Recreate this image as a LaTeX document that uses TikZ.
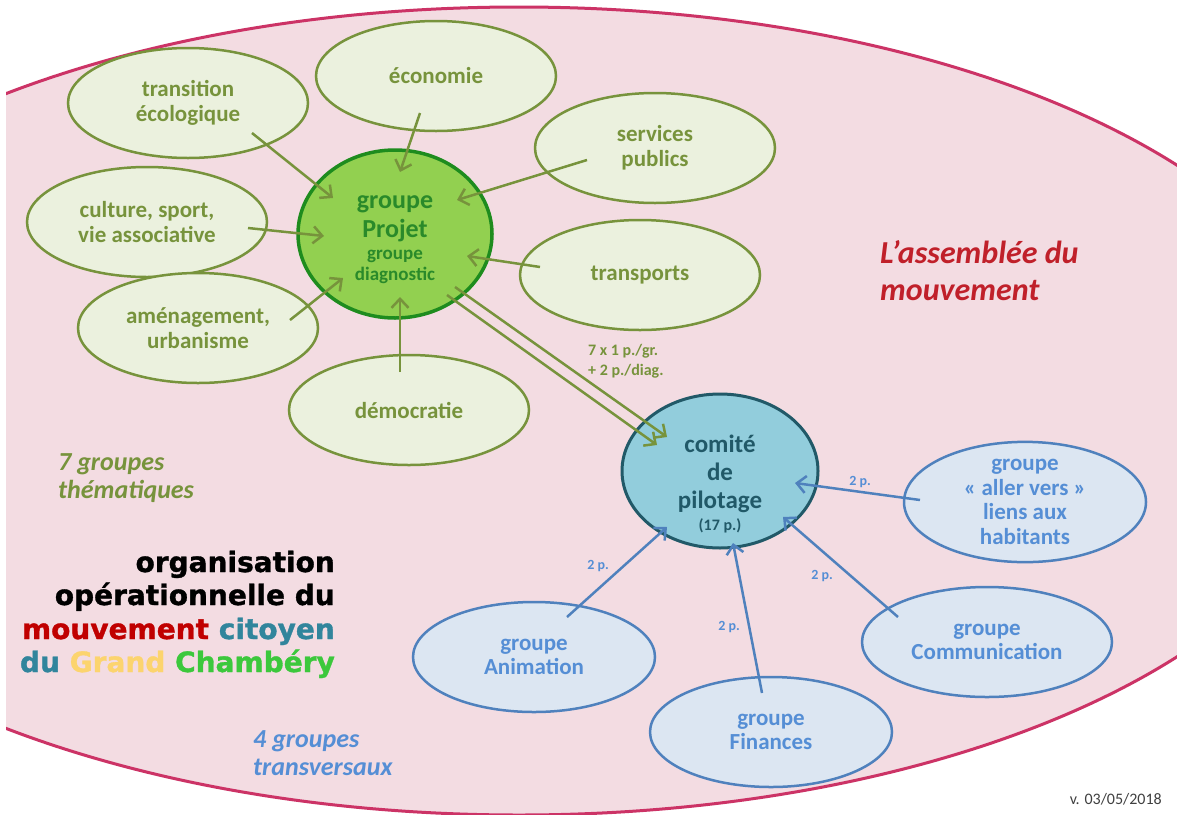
\documentclass[tikz,border=0pt]{standalone}
\usepackage{fontspec}
\setmainfont{Carlito}
\newfontfamily\titlefont{DejaVu Sans}[FakeBold=1.2]
\usetikzlibrary{shapes.geometric,arrows.meta,calc}
\definecolor{pinkfill}{HTML}{F3DCE2}
\definecolor{crimson}{HTML}{CC3366}
\definecolor{olive}{HTML}{77933C}
\definecolor{glight}{HTML}{EBF1DE}
\definecolor{gbright}{HTML}{92D050}
\definecolor{gdark}{HTML}{1E8C1E}
\definecolor{gtext}{HTML}{2A8A2A}
\definecolor{cfill}{HTML}{92CDDC}
\definecolor{cdark}{HTML}{215968}
\definecolor{bfill}{HTML}{DCE6F2}
\definecolor{bstroke}{HTML}{4F81BD}
\definecolor{btext}{HTML}{558ED5}
\definecolor{asstext}{HTML}{C0202A}
\definecolor{tred}{HTML}{C00000}
\definecolor{tteal}{HTML}{31859C}
\definecolor{tgold}{HTML}{FCD46E}
\definecolor{tgreen}{HTML}{3CC83C}
\tikzset{
  gell/.style={ellipse, draw=olive, fill=glight, line width=2.5pt, minimum width=240pt, minimum height=110pt, inner sep=0pt, text=olive, font=\bfseries\fontsize{23}{25}\selectfont, align=center},
  bell/.style={ellipse, draw=bstroke, fill=bfill, line width=2.5pt, minimum width=242pt, minimum height=110pt, inner sep=0pt, text=btext, font=\bfseries\fontsize{23}{24.5}\selectfont, align=center},
  garrow/.style={draw=olive, line width=2.5pt, -{Straight Barb[length=9pt,width=17pt]}},
  barrow/.style={draw=bstroke, line width=2.5pt, -{Straight Barb[length=9pt,width=17pt]}},
  plabel/.style={text=btext, font=\bfseries\fontsize{14}{16}\selectfont},
  intext/.style={anchor=base, inner sep=0pt, align=center},
  ttl/.style={anchor=base east, inner sep=0pt, font=\titlefont\bfseries\fontsize{28}{33}\selectfont},
}
\begin{document}
\begin{tikzpicture}[x=1pt,y=-1pt]
\useasboundingbox[fill=white] (0,0) rectangle (1177,814);
\begin{scope}
  \clip (6,0) rectangle (1177,814);
  \draw[crimson, fill=pinkfill, line width=3pt] (519,411) ellipse [x radius=829, y radius=404];
\end{scope}
% green group
\node[gell] (te) at (188,103) {transition\\écologique};
\node[gell] (eco) at (436,76) {économie};
\node[gell] (sp) at (655,148) {services\\publics};
\node[gell] (cul) at (147,222) {culture, sport,\\vie associative};
\node[gell] (tr) at (640,275) {transports};
\node[gell] (am) at (198,328) {aménagement,\\urbanisme};
\node[gell] (dem) at (409,410) {démocratie};
\node[ellipse, draw=gdark, fill=gbright, line width=3.5pt, minimum width=194pt, minimum height=168pt, inner sep=0pt] (P) at (395,234) {};
\node[intext, text=gtext, font=\bfseries\fontsize{26}{29}\selectfont] (Pt1) at ($(P)+(0,3)$) {groupe\\Projet};
\node[intext, text=gtext, font=\bfseries\fontsize{19}{20.5}\selectfont] (Pt2) at ($(P)+(0,46)$) {groupe\\diagnostic};
% comite
\node[ellipse, draw=cdark, fill=cfill, line width=3pt, minimum width=196pt, minimum height=154pt, inner sep=0pt] (C) at (720,471) {};
\node[intext, text=cdark, font=\bfseries\fontsize{25}{28}\selectfont] (Ct1) at ($(C)+(0,37)$) {comité\\de\\pilotage};
\node[intext, text=cdark, font=\bfseries\fontsize{16}{18}\selectfont] (Ct2) at ($(C)+(0,59)$) {(17 p.)};
% blue groups
\node[bell] (av) at (1025,502) {groupe\\« aller vers »\\liens aux\\habitants};
\node[bell, minimum width=250pt] (com) at (987,642) {groupe\\Communication};
\node[bell] (fin) at (771,732) {groupe\\Finances};
\node[bell] (ani) at (534,657) {groupe\\Animation};
% green arrows
\draw[garrow] ($(te)+(64,30)$) -- ($(P)+(-62,-36)$);
\draw[garrow] ($(eco)+(-16,37)$) -- ($(P)+(5,-62)$);
\draw[garrow] ($(sp)+(-68,12)$) -- ($(P)+(62,-34)$);
\draw[garrow] ($(cul)+(101,6)$) -- ($(P)+(-71,2)$);
\draw[garrow] ($(tr)+(-100,-8)$) -- ($(P)+(72,22)$);
\draw[garrow] ($(am)+(92,-8)$) -- ($(P)+(-52,44)$);
\draw[garrow] ($(dem)+(-9,-38)$) -- ($(P)+(5,63)$);
% double arrow to comite
\draw[garrow] ($(P)+(60,53)$) -- ($(C)+(-53,-34)$);
\draw[garrow] ($(P)+(52,61)$) -- ($(C)+(-63,-26)$);
\node[anchor=base west, inner sep=0pt, text=olive, font=\bfseries\fontsize{16}{18}\selectfont] (lab) at (588,355) {7 x 1 p./gr.};
\node[anchor=base west, inner sep=0pt, text=olive, font=\bfseries\fontsize{16}{18}\selectfont] (lab2) at (588,375) {+ 2 p./diag.};
% blue arrows
\draw[barrow] ($(av)+(-105,-2)$) -- ($(C)+(75,12)$);
\draw[barrow] ($(com)+(-89,-25)$) -- ($(C)+(63,46)$);
\draw[barrow] ($(fin)+(-9,-39)$) -- ($(C)+(13,72)$);
\draw[barrow] ($(ani)+(33,-40)$) -- ($(C)+(-53,56)$);
\node[plabel] (p1) at (860,482) {2 p.};
\node[plabel] (p2) at (822,576) {2 p.};
\node[plabel] (p3) at (729,627) {2 p.};
\node[plabel] (p4) at (598,566) {2 p.};
% side texts
\node[anchor=base west, inner sep=0pt, text=asstext, font=\bfseries\itshape\fontsize{32}{37}\selectfont, align=left] (ass) at (880,300) {L’assemblée du\\mouvement};
\node[anchor=base west, inner sep=0pt, text=olive, font=\bfseries\itshape\fontsize{26}{28}\selectfont, align=left] (sept) at (58,498) {7 groupes\\thématiques};
\node[anchor=base west, inner sep=0pt, text=btext, font=\bfseries\itshape\fontsize{26}{28}\selectfont, align=left] (quatre) at (253,775) {4 groupes\\transversaux};
\node[anchor=base east, inner sep=0pt, text=black!75, font=\fontsize{16}{18}\selectfont] (ver) at (1162,804) {v. 03/05/2018};
% title
\node[ttl] (t1) at (335,572) {organisation};
\node[ttl] (t2) at (335,605) {opérationnelle du};
\node[ttl] (t3) at (335,639) {\textcolor{tred}{mouvement} \textcolor{tteal}{citoyen}};
\node[ttl] (t4) at (335,672) {\textcolor{tteal}{du} \textcolor{tgold}{Grand} \textcolor{tgreen}{Chambéry}};
\end{tikzpicture}
\end{document}
